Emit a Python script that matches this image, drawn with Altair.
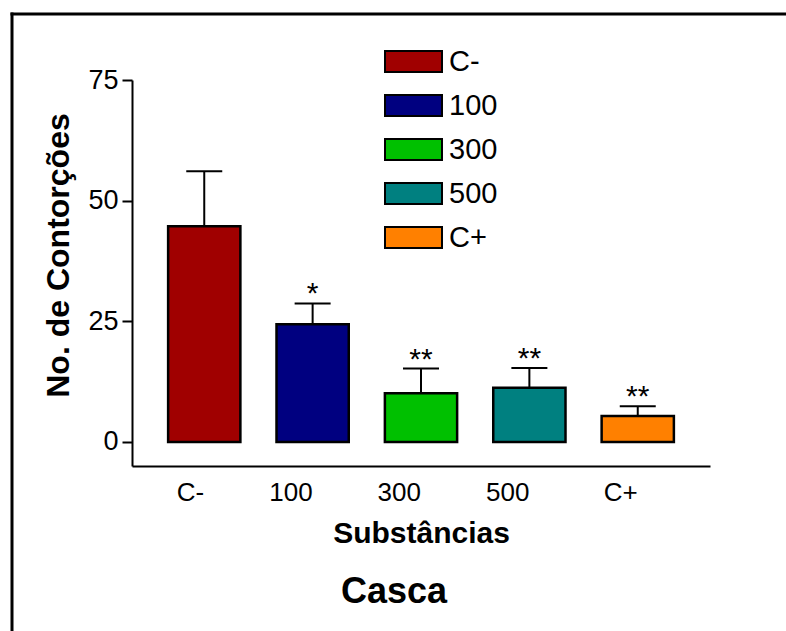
import altair as alt
import pandas as pd

categories = ["C-", "100", "300", "500", "C+"]
means = [44.7, 24.4, 10.1, 11.2, 5.35]
upper = [56.1, 28.7, 15.2, 15.3, 7.4]
stars = ["", "*", "**", "**", "**"]
colors = ["#A00000", "#000080", "#00C000", "#008080", "#FF8000"]
y_ticks = [0, 25, 50, 75]
panel_title = ["Casca"]

FONT = "Liberation Sans"

df = pd.DataFrame({"cat": categories, "mean": means, "upper": upper, "star": stars})

x_enc = alt.X(
    "cat:N",
    sort=categories,
    scale=alt.Scale(paddingInner=1 / 3, paddingOuter=1 / 3),
    axis=alt.Axis(
        title="Substâncias",
        labelAngle=0,
        ticks=False,
        domainColor="black",
        domainWidth=2,
        labelFontSize=26,
        labelPadding=26,
        labelColor="black",
        titleFontSize=30,
        titleFontWeight="bold",
        titleColor="black",
        titleX=289,
        titleY=52,
        titleBaseline="top",
    ),
)

y_scale = alt.Scale(domain=[-5, 75], nice=False, zero=False)

y_axis = alt.Axis(
    values=y_ticks,
    title="No. de Contorções",
    grid=False,
    tickSize=10,
    tickWidth=2,
    tickColor="black",
    domainColor="black",
    domainWidth=2,
    labelFontSize=27,
    labelPadding=4,
    labelColor="black",
    titleFontSize=32,
    titleFontWeight="bold",
    titleColor="black",
    titleAngle=270,
    titleX=-64,
    titleY=175,
    titleBaseline="alphabetic",
    titleAlign="center",
)

base = alt.Chart(df)

bars = base.mark_bar(stroke="black", strokeWidth=2.5, opacity=1).encode(
    x=x_enc,
    y=alt.Y("mean:Q", scale=y_scale, axis=y_axis),
    color=alt.Color(
        "cat:N",
        sort=categories,
        scale=alt.Scale(domain=categories, range=colors),
        legend=alt.Legend(
            title=None,
            orient="none",
            legendX=267,
            legendY=-33,
            symbolType="M-2.714,-1L2.714,-1L2.714,1L-2.714,1Z",
            symbolSize=441,
            symbolStrokeColor="black",
            symbolStrokeWidth=2,
            symbolOpacity=1,
            labelFontSize=29,
            labelOffset=21,
            labelColor="black",
            rowPadding=14,
            padding=0,
        ),
    ),
)

err = base.mark_rule(color="black", strokeWidth=2).encode(
    x=alt.X("cat:N", sort=categories),
    y=alt.Y("mean:Q", scale=y_scale),
    y2="upper:Q",
)

caps = base.mark_tick(color="black", thickness=2, size=36, opacity=1).encode(
    x=alt.X("cat:N", sort=categories),
    y=alt.Y("upper:Q", scale=y_scale),
)

star_text = base.mark_text(fontSize=30, baseline="alphabetic", dy=0, color="black").encode(
    x=alt.X("cat:N", sort=categories),
    y=alt.Y("upper:Q", scale=y_scale),
    text="star:N",
)

one = alt.Chart(pd.DataFrame({"t": panel_title}))

border_top = one.mark_rect(color="black", strokeWidth=0).encode(
    x=alt.value(-121.5), x2=alt.value(654), y=alt.value(-67.5), y2=alt.value(-64.5)
)
border_left = one.mark_rect(color="black", strokeWidth=0).encode(
    x=alt.value(-121.5), x2=alt.value(-118.5), y=alt.value(-67.5), y2=alt.value(551)
)

casca = one.mark_text(
    fontSize=36, fontWeight="bold", baseline="alphabetic", align="center", color="black"
).encode(x=alt.value(262), y=alt.value(523), text="t:N")

chart = (
    alt.layer(border_top, border_left, err, caps, bars, star_text, casca)
    .properties(
        width=578,
        height=386,
        autosize=alt.AutoSizeParams(type="none"),
        padding={"left": 132, "top": 80, "right": 76, "bottom": 165},
    )
    .configure(font=FONT)
    .configure_view(stroke=None)
)

chart.save("out.html", embed_options={"renderer": "svg", "actions": False})
